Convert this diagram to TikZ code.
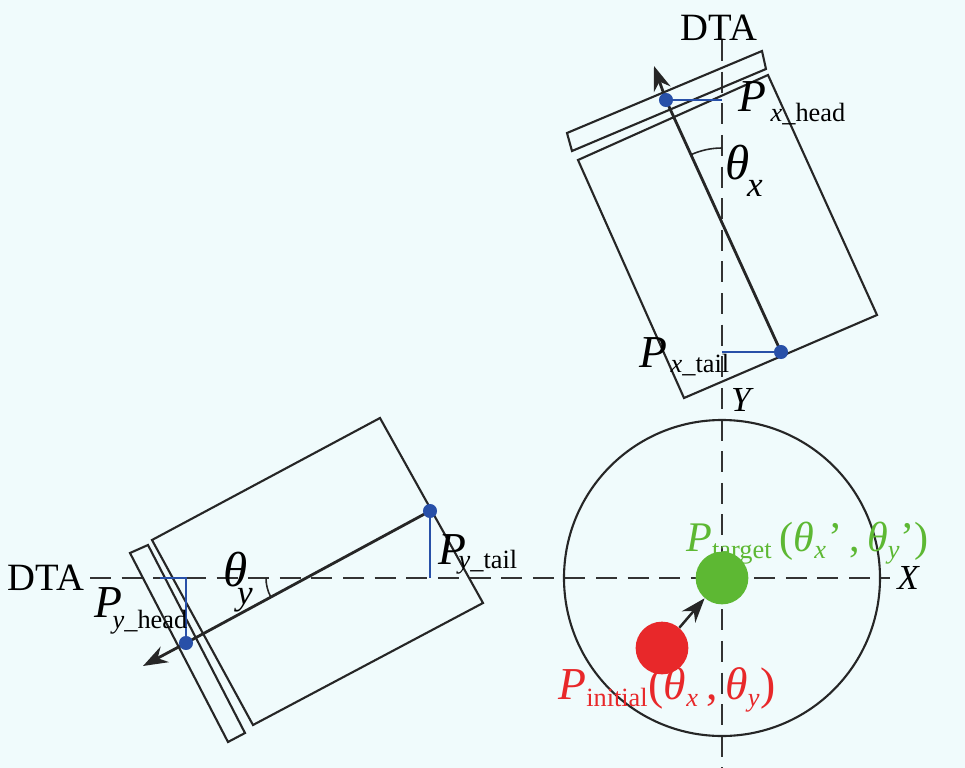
\documentclass[tikz,border=0pt]{standalone}
\usepackage{fontspec}
\setmainfont{Liberation Serif}
\usetikzlibrary{arrows.meta}
\definecolor{bg}{HTML}{F0FBFC}
\definecolor{bl}{HTML}{2850A8}
\definecolor{gr}{HTML}{5DB833}
\definecolor{rd}{HTML}{E8282A}
\newcommand{\sbx}[1]{\textsubscript{\fontsize{15}{15}\selectfont #1}}
\begin{document}
\begin{tikzpicture}[x=0.02cm,y=-0.02cm,
  box/.style={draw=black!85,line width=1.2pt},
  axisln/.style={draw=black!80,line width=0.9pt,dash pattern=on 12pt off 6pt},
  bline/.style={draw=bl,line width=1.2pt},
  dot/.style={circle,fill=bl,inner sep=0pt,minimum size=8pt},
  lab/.style={font=\fontsize{26}{26}\selectfont\itshape,inner sep=0pt},
  th/.style={font=\fontsize{28}{28}\selectfont\itshape,inner sep=0pt},
  sub/.style={font=\fontsize{15}{15}\selectfont},
  arr/.style={draw=black!85,line width=1.6pt,-{Stealth[length=14pt,width=10pt]}}]
\fill[bg] (0,0) rectangle (965,768);
\useasboundingbox (0,0) rectangle (965,768);
% axes
\draw[axisln] (722,40) -- (722,768);
\draw[axisln] (90,578) -- (890,578);
\node[font=\fontsize{22}{22}\selectfont] (dta1) at (719,28) {DTA};
\node[font=\fontsize{22}{22}\selectfont] (dta2) at (46,578) {DTA};
\node[font=\fontsize{20}{20}\selectfont\itshape] (X) at (908,578) {X};
\node[font=\fontsize{20}{20}\selectfont\itshape] (Y) at (741,400) {Y};
% top box
\draw[box] (567,133) -- (762,51) -- (766,69) -- (572,151) -- cycle;
\draw[box] (578,160) -- (768,75) -- (877,315) -- (684,398) -- cycle;
\coordinate (xh) at (666,100);
\coordinate (xt) at (781,352);
\coordinate (xa) at (654,66);
\draw[box,line width=1.6pt] (xh) -- (xt);
\draw[arr] (xh) -- (xa);
\draw[bline] (xh) -- (722,100);
\draw[bline] (xt) -- (722,352);
\node[dot] (xhd) at (xh) {};
\node[dot] (xtd) at (xt) {};
\draw[draw=black!85,line width=0.9pt] (722,148) arc[start angle=270,end angle=246,radius=75];
\node[th] (tx) at (738,163) {θ};
\node[font=\fontsize{20}{20}\selectfont\itshape] (txs) at (755,188) {x};
\node[lab] (pxh) at (752,97) {P};
\node[sub] (pxhs) at (808,114) {\textit{x}\_head};
\node[lab] (pxt) at (653,353) {P};
\node[sub] (pxts) at (700,365) {\textit{x}\_tail};
% left box
\draw[box] (130,553) -- (148,545) -- (245,733) -- (228,742) -- cycle;
\draw[box] (152,540) -- (380,418) -- (483,603) -- (253,725) -- cycle;
\coordinate (yh) at (186,643);
\coordinate (yt) at (430,511);
\coordinate (ya) at (143,666);
\draw[box,line width=1.6pt] (yh) -- (yt);
\draw[arr] (yh) -- (ya);
\draw[bline] (yh) -- (186,578) -- (160,578);
\draw[bline] (yt) -- (430,578);
\node[dot] (yhd) at (yh) {};
\node[dot] (ytd) at (yt) {};
\draw[draw=black!85,line width=0.9pt] (266,578) arc[start angle=180,end angle=152,radius=40];
\node[th] (ty) at (236,570) {θ};
\node[font=\fontsize{20}{20}\selectfont\itshape] (tys) at (245,600) {y};
\node[lab] (pyh) at (108,603) {P};
\node[sub] (pyhs) at (150,622) {\textit{y}\_head};
\node[lab] (pyt) at (452,550) {P};
\node[sub] (pyts) at (488,562) {\textit{y}\_tail};
% circle
\draw[box] (722,578) circle[radius=158];
\node[circle,fill=gr,inner sep=0pt,minimum size=30pt] (g) at (722,578) {};
\node[circle,fill=rd,inner sep=0pt,minimum size=30pt] (r) at (662,648) {};
\draw[arr,line width=1.4pt] (r) -- (g);
\node[lab,text=gr,anchor=west,font=\fontsize{24}{24}\selectfont\itshape] (pt) at (686,543) {P\sbx{\upshape target}\,{\upshape(}θ\sbx{x}\kern1pt{\upshape'}\,{\upshape,}\,θ\sbx{y}{\upshape')}};
\node[lab,text=rd,anchor=west] (pi) at (558,690) {P\sbx{\upshape initial}{\upshape(}θ\sbx{x}\,{\upshape,}\,θ\sbx{y}{\upshape)}};
\end{tikzpicture}
\end{document}
